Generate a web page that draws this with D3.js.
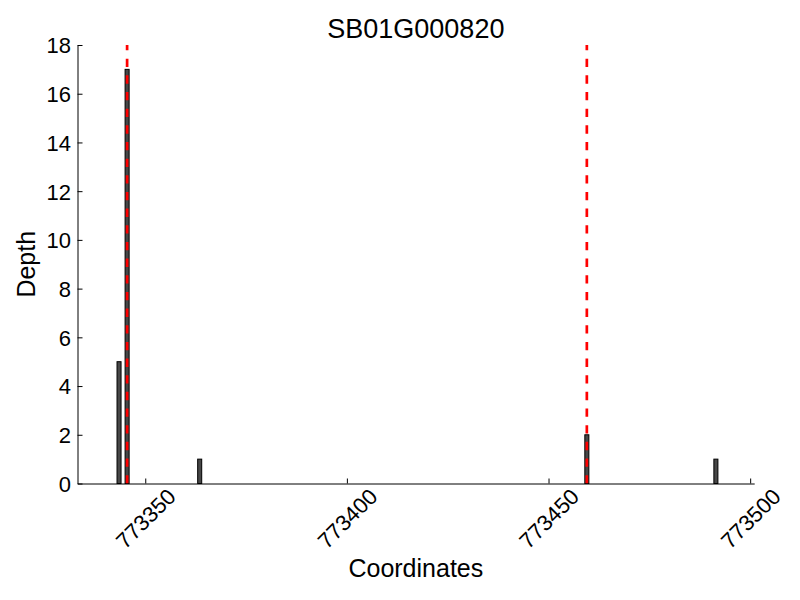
<!DOCTYPE html>
<html>
<head>
<meta charset="utf-8">
<script src="https://cdn.jsdelivr.net/npm/d3@7"></script>
<style>
  body { margin: 0; background: #fff; }
  text { font-family: "Liberation Sans", Arial, Helvetica, sans-serif; fill: #000; }
</style>
</head>
<body>
<svg id="chart" width="800" height="600"></svg>
<script>
// Data
const title = "SB01G000820";
const positions = [773343, 773345, 773363, 773459, 773491];
const depths = [5, 17, 1, 2, 1];
const markerPositions = [773345.5, 773459.5];
const xTicks = [773350, 773400, 773450, 773500];
const yTicks = [0, 2, 4, 6, 8, 10, 12, 14, 16, 18];
const xDomain = [773333.2, 773501];
const yDomain = [0, 18];
const xLabel = "Coordinates";
const yLabel = "Depth";

(function () {
const svg = d3.select("#chart");
const mLeft = 77.5, mRight = 754.2, mTop = 45, mBottom = 483.5;

const x = d3.scaleLinear().domain(xDomain).range([mLeft, mRight]);
const y = d3.scaleLinear().domain(yDomain).range([mBottom, mTop]);

// Bars (align edge, width 1)
svg.append("g").selectAll("rect")
  .data(positions.map((p, i) => ({p, d: depths[i]})))
  .join("rect")
  .attr("x", d => x(d.p))
  .attr("y", d => y(d.d))
  .attr("width", d => x(d.p + 1) - x(d.p))
  .attr("height", d => y(0) - y(d.d))
  .attr("fill", "#474747")
  .attr("stroke", "#000")
  .attr("stroke-width", 1);

// Red dashed markers (drawn bottom to top)
svg.append("g").selectAll("line")
  .data(markerPositions)
  .join("line")
  .attr("x1", d => x(d)).attr("x2", d => x(d))
  .attr("y1", mBottom).attr("y2", mTop)
  .attr("stroke", "#ff0000")
  .attr("stroke-width", 2.7)
  .attr("stroke-dasharray", "8.33,8.33");

// X axis
const xAxis = d3.axisBottom(x).tickValues(xTicks).tickSizeInner(-5).tickSizeOuter(0).tickFormat(d3.format("d"));
const gx = svg.append("g").attr("transform", `translate(0,${mBottom})`).call(xAxis);
gx.select(".domain").attr("stroke", "#000");
gx.selectAll(".tick line").attr("stroke", "#000");
gx.selectAll(".tick text")
  .attr("font-size", 22)
  .attr("text-anchor", "middle")
  .attr("dy", "0.35em")
  .attr("y", 0)
  .attr("transform", "translate(0,35) rotate(-45)");

// Y axis
const yAxis = d3.axisLeft(y).tickValues(yTicks).tickSizeInner(-5).tickSizeOuter(0).tickPadding(6);
const gy = svg.append("g").attr("transform", `translate(${mLeft},0)`).call(yAxis);
gy.select(".domain").attr("stroke", "#000");
gy.selectAll(".tick line").attr("stroke", "#000");
gy.selectAll(".tick text")
  .attr("font-size", 22)
  .attr("x", -6.5)
  .attr("dy", "0.36em");

svg.selectAll(".tick text").attr("font-family", "Liberation Sans, Arial, sans-serif");

// Title
svg.append("text")
  .attr("x", (mLeft + mRight) / 2)
  .attr("y", 38)
  .attr("text-anchor", "middle")
  .attr("font-size", 27)
  .text(title);

// Axis labels
svg.append("text")
  .attr("x", (mLeft + mRight) / 2)
  .attr("y", 577)
  .attr("text-anchor", "middle")
  .attr("font-size", 25)
  .text(xLabel);

svg.append("text")
  .attr("transform", `translate(35,${(mTop + mBottom) / 2}) rotate(-90)`)
  .attr("text-anchor", "middle")
  .attr("font-size", 25)
  .text(yLabel);
})();
</script>
</body>
</html>
